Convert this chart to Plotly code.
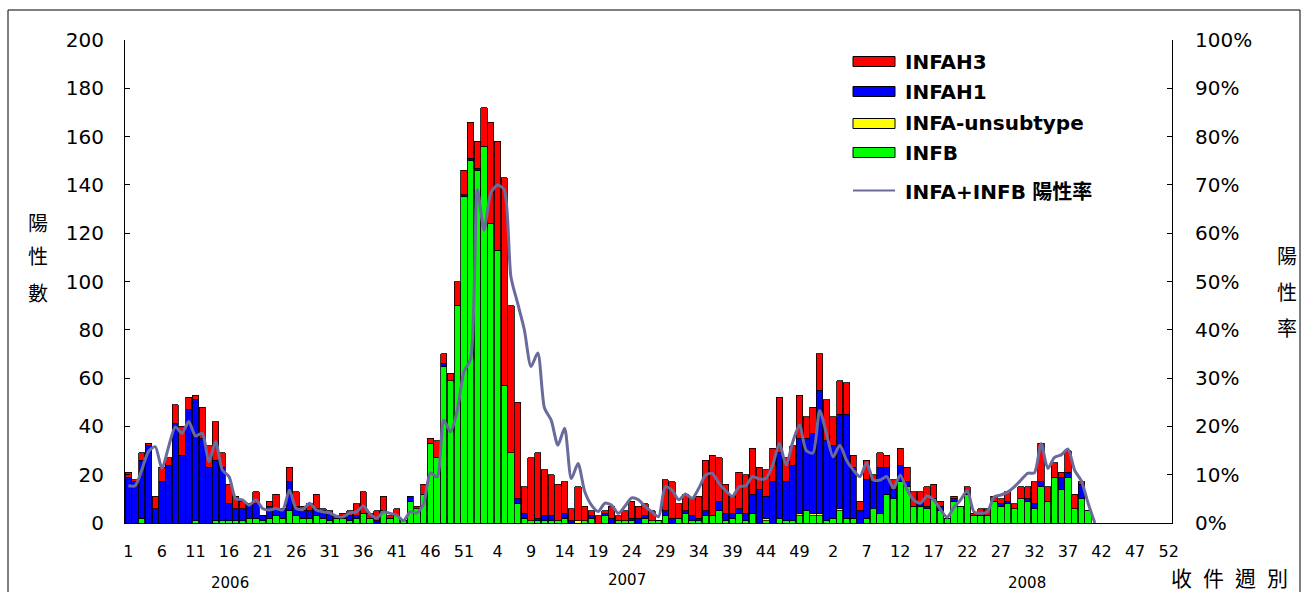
import plotly.graph_objects as go

W, H = 1304, 592
L, R, T, B = 125, 1172, 40, 523

# ---------------- data (weekly counts) ----------------
# 2006 week 1..52
infb_2006 = [0,0,2,0,0,0,0,0,0,0,1,0,0,1,1,1,1,1,2,2,1,2,3,2,5,3,2,2,3,2,1,2,2,1,2,4,2,0,5,2,3,1,9,6,12,33,27,65,59,90,135,150]
unsub_2006 = [0]*52
h1_2006 = [19,17,24,32,6,17,24,41,28,47,50,35,23,25,22,7,5,5,6,6,2,5,3,4,12,4,3,3,3,3,3,0,1,2,1,0,0,1,0,0,0,0,2,0,0,0,0,1,0,0,1,1]
h3_2006 = [2,1,3,1,5,6,3,8,12,5,2,13,9,16,6,8,5,3,0,5,0,2,6,0,6,6,2,3,6,1,1,1,1,2,5,9,2,4,6,1,3,0,0,1,4,2,7,4,3,10,10,15]
rate_2006 = [7.7,7.7,11,14.8,15.8,11.3,15.8,19.9,18.6,21,18,18.6,12.7,16.8,11,9.6,5.0,4.8,3.7,4.8,3.0,2.7,3.0,2.7,6.8,3.0,2.8,4.1,2.7,2.3,2.1,1.4,1.3,2.1,2.3,3.5,1.9,1.0,2.3,2.0,1.6,0.5,2.3,2.1,4.0,10.4,9.5,21.3,18.9,23.3,31.3,34]

# 2007 week 1..52
infb_2007 = [146,156,124,113,57,29,8,2,1,1,1,1,1,2,0,0,1,2,0,3,0,1,1,1,0,2,1,1,3,0,2,4,1,1,3,3,5,1,2,4,1,4,0,1,0,2,1,1,3,5,3,3]
unsub_2007 = [0,0,0,0,0,0,0,0,0,0,0,0,0,0,0,1,0,0,0,0,0,0,0,0,0,0,0,0,0,0,0,0,0,0,0,0,0,0,0,0,0,0,0,1,0,0,0,0,1,0,1,1]
h1_2007 = [1,0,0,0,0,0,2,2,0,1,2,2,0,2,1,0,0,1,0,1,2,0,0,1,2,1,0,0,2,2,0,1,2,1,2,0,4,3,2,2,3,8,14,9,17,27,16,23,31,30,33,51]
h3_2007 = [11,16,42,45,86,61,40,11,26,27,19,17,15,13,5,14,6,2,3,1,5,2,4,7,5,5,4,0,13,15,6,7,7,9,21,25,18,12,7,15,16,19,9,11,14,23,10,8,18,9,11,15]
rate_2007 = [69,60.6,68.3,70,69,51,45.5,40,32.4,35.2,23.8,21.3,16.1,19.6,9.2,12.3,6.5,3.7,2.4,4.1,3.7,2.0,3.5,5.2,4.8,3.4,2.3,1.3,7.5,6.8,4.8,6.0,5.1,7.2,9.9,10.3,8.2,6.7,5.5,7.5,7.7,9.6,9.1,9.2,12.0,16.5,12.0,16.8,20.3,15.0,14.5,23.3]

# 2008 week 1..41
infb_2008 = [1,2,5,2,2,0,2,6,4,12,10,17,15,7,7,6,10,5,2,9,7,12,3,3,3,9,7,8,6,10,9,6,15,9,19,14,19,6,10,5,0]
unsub_2008 = [0,0,1,0,0,0,0,0,0,0,0,0,0,0,0,0,0,0,0,0,0,0,0,0,0,0,0,0,0,0,0,0,0,0,0,0,0,0,0,0,0]
h1_2008 = [33,30,39,43,21,5,16,11,19,11,4,7,2,0,1,1,0,2,0,1,0,1,0,0,0,0,1,1,0,0,1,2,2,0,0,5,2,0,6,0,0]
h3_2008 = [17,12,14,13,5,4,8,3,6,5,4,7,6,6,5,8,6,2,0,1,0,2,1,3,3,2,2,4,2,5,5,9,16,6,6,2,9,6,1,0,0]
rate_2008 = [18.6,13.7,16.1,13.0,11.0,9.6,12.5,8.9,8.9,9.6,7.2,9.9,7.0,4.8,4.1,5.6,4.8,2.8,1.2,3.2,4.8,6.7,2.3,2.0,2.3,5.4,5.8,6.4,7.5,8.9,10.3,10.4,16.4,11.3,13.6,14.1,15.3,10.9,8.7,4.1,0]

year_labels = ["2006", "2007", "2008"]
weeks_per_year = 52
tick_step = 5

colors = {"INFAH3": "#FF0000", "INFAH1": "#0000FF", "INFA-unsubtype": "#FFFF00", "INFB": "#00FF00"}
line_name = "INFA+INFB 陽性率"
line_color = "#6A6A9C"
left_title = "陽性數"
right_title = "陽性率"
x_title = "收件週別"

infb = infb_2006 + infb_2007 + infb_2008
unsub = unsub_2006 + unsub_2007 + unsub_2008
h1 = h1_2006 + h1_2007 + h1_2008
h3 = h3_2006 + h3_2007 + h3_2008
rate = rate_2006 + rate_2007 + rate_2008
xs = list(range(1, len(infb) + 1))
n_total = weeks_per_year * len(year_labels)

tickvals = list(range(1, n_total + 1, tick_step))
ticktext = [str((v - 1) % weeks_per_year + 1) for v in tickvals]

fig = go.Figure()
for name, vals in [("INFB", infb), ("INFA-unsubtype", unsub), ("INFAH1", h1), ("INFAH3", h3)]:
    fig.add_trace(go.Bar(x=xs, y=vals, name=name,
                         marker=dict(color=colors[name], line=dict(color="black", width=0.8)),
                         showlegend=False))
fig.add_trace(go.Scatter(x=xs, y=rate, name=line_name, yaxis="y2", mode="lines",
                         line=dict(color=line_color, width=3, shape="spline", smoothing=0.7),
                         showlegend=False))

def px(x):
    return (x - L) / (R - L)

def py(y):
    return (B - y) / (B - T)

FONT = "DejaVu Sans"
CJK = "Noto Sans CJK TC"

shapes = []
annotations = []
# outer frame
shapes.append(dict(type="rect", xref="paper", yref="paper", x0=px(8), x1=px(1300), y0=py(640), y1=py(10),
                   line=dict(color="black", width=1), fillcolor="rgba(0,0,0,0)", layer="below"))

# manual legend
leg_rows = [("INFAH3", 61.5), ("INFAH1", 91.5), ("INFA-unsubtype", 123.5), ("INFB", 152.5)]
for name, yc in leg_rows:
    shapes.append(dict(type="rect", xref="paper", yref="paper", x0=px(853), x1=px(895),
                       y0=py(yc + 5), y1=py(yc - 5),
                       line=dict(color="black", width=1), fillcolor=colors[name]))
    annotations.append(dict(xref="paper", yref="paper", x=px(903), y=py(yc), text="<b>%s</b>" % name,
                            showarrow=False, xanchor="left", yanchor="middle",
                            font=dict(family=FONT, size=20, color="black")))
shapes.append(dict(type="line", xref="paper", yref="paper", x0=px(853), x1=px(895), y0=py(190.5), y1=py(190.5),
                   line=dict(color=line_color, width=2)))
annotations.append(dict(xref="paper", yref="paper", x=px(903), y=py(190.5),
                        text="<b>INFA+INFB</b> <b><span style='font-family:%s'>陽性率</span></b>" % CJK,
                        showarrow=False, xanchor="left", yanchor="middle",
                        font=dict(family=FONT, size=20, color="black")))

# axis titles (vertical stacked characters)
for ch, yc in zip(left_title, [222, 256, 292]):
    annotations.append(dict(xref="paper", yref="paper", x=px(38), y=py(yc), text=ch, showarrow=False,
                            xanchor="center", yanchor="middle", font=dict(family=CJK, size=20, color="black")))
for ch, yc in zip(right_title, [255, 291, 327]):
    annotations.append(dict(xref="paper", yref="paper", x=px(1287), y=py(yc), text=ch, showarrow=False,
                            xanchor="center", yanchor="middle", font=dict(family=CJK, size=20, color="black")))
for ch, xc in zip(x_title, [1181, 1213, 1245, 1277]):
    annotations.append(dict(xref="paper", yref="paper", x=px(xc), y=py(577), text=ch, showarrow=False,
                            xanchor="center", yanchor="middle", font=dict(family=CJK, size=21, color="black")))
for yl, xc, yc in zip(year_labels, [230, 627, 1027], [583, 580, 583]):
    annotations.append(dict(xref="paper", yref="paper", x=px(xc), y=py(yc), text=yl, showarrow=False,
                            xanchor="center", yanchor="middle", font=dict(family=FONT, size=15, color="black")))

fig.update_layout(
    width=W, height=H,
    margin=dict(l=L, r=W - R, t=T, b=H - B, pad=0),
    paper_bgcolor="white", plot_bgcolor="white",
    barmode="stack", bargap=0.06,
    font=dict(family=FONT, color="black"),
    shapes=shapes, annotations=annotations,
    xaxis=dict(range=[0.5, n_total + 0.5], tickvals=tickvals, ticktext=ticktext, tickangle=0,
               showline=True, linecolor="black", linewidth=1, ticks="", showgrid=False, zeroline=False,
               tickfont=dict(family=FONT, size=16), ticklabelstandoff=14),
    yaxis=dict(range=[0, 200], dtick=20, showline=True, linecolor="black", linewidth=1, ticks="inside",
               ticklen=5, tickcolor="black", showgrid=False, zeroline=False,
               tickfont=dict(family=FONT, size=20), ticklabelstandoff=16),
    yaxis2=dict(range=[0, 100], dtick=10, ticksuffix="%", overlaying="y", side="right", showline=True,
                linecolor="black", linewidth=1, ticks="inside", ticklen=5, tickcolor="black", showgrid=False,
                zeroline=False, tickfont=dict(family=FONT, size=20), ticklabelstandoff=18),
)

fig.write_html("out.html", config={"displayModeBar": False},
               post_script="document.body.style.margin='0';document.body.style.overflow='hidden';")
